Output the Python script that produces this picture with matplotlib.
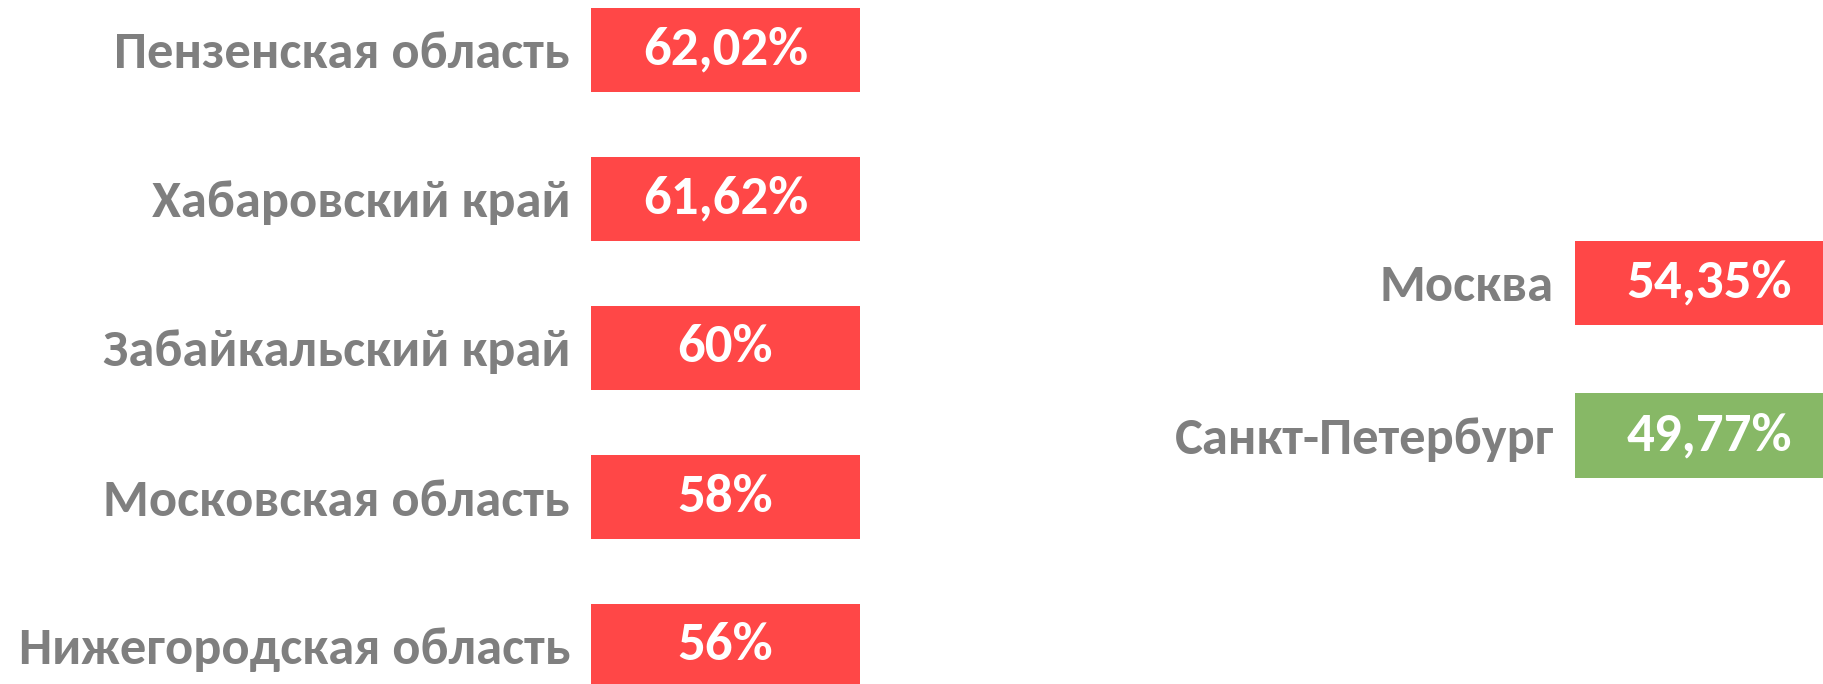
import matplotlib.pyplot as plt

plt.rcParams['font.family'] = ['Carlito', 'Fira Sans Condensed', 'DejaVu Sans']

# data
left_regions = ['Пензенская область', 'Хабаровский край', 'Забайкальский край',
                'Московская область', 'Нижегородская область']
left_values = [62.02, 61.62, 60, 58, 56]
left_colors = ['#FF4747'] * 5

right_regions = ['Москва', 'Санкт-Петербург']
right_values = [54.35, 49.77]
right_colors = ['#FF4747', '#87B866']

label_color = '#7F7F7F'
label_fs = 37.8
value_fs = 39.5


def fmt(v):
    return f"{v:g}".replace('.', ',') + '%'


def draw(ax, regions, values, colors, bar_h):
    y = list(range(len(regions)))
    # every box has the same length, the number is written inside
    bars = ax.barh(y, [1] * len(regions), height=bar_h, color=colors)
    ax.bar_label(bars, labels=[fmt(v) for v in values], label_type='center',
                 color='white', fontsize=value_fs, fontweight='bold')
    ax.set_yticks(y)
    ax.set_yticklabels(regions, fontsize=label_fs, fontweight='bold', color=label_color)
    ax.tick_params(axis='y', length=0, pad=15)
    ax.set_xticks([])
    ax.set_xlim(0, 1)
    ax.set_ylim(len(regions) - 0.5, -0.5)
    for s in ax.spines.values():
        s.set_visible(False)
    ax.patch.set_visible(False)


fig = plt.figure(figsize=(18.24, 6.84), dpi=100)

ax1 = fig.add_axes([591 / 1824, (684 - 720.5) / 684, 269 / 1824, 745 / 684])
draw(ax1, left_regions, left_values, left_colors, 0.567)

ax2 = fig.add_axes([1575 / 1824, (684 - 511.75) / 684, 269 / 1824, 305 / 684])
draw(ax2, right_regions, right_values, right_colors, 0.554)

fig.savefig('out.png', dpi=100)
